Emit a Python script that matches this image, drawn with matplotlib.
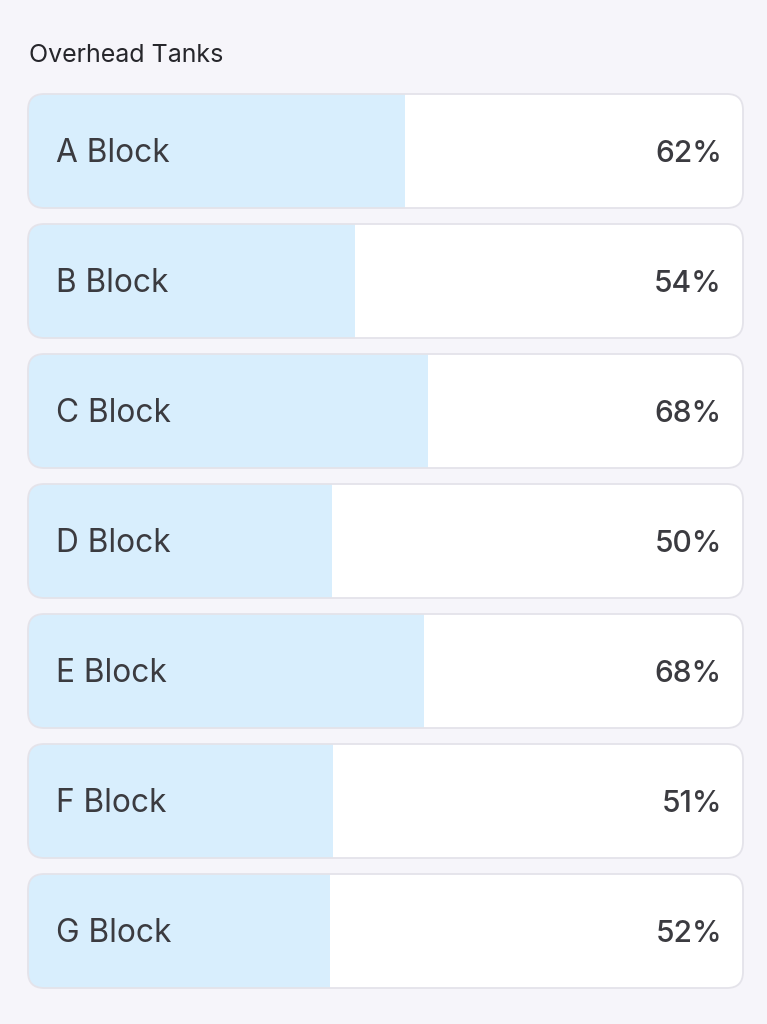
import matplotlib.pyplot as plt
from matplotlib.patches import FancyBboxPatch, Rectangle

# data
blocks = ['A Block', 'B Block', 'C Block', 'D Block', 'E Block', 'F Block', 'G Block']
levels = [62, 54, 68, 50, 68, 51, 52]                    # shown percentages
fill_width = [52.7, 45.7, 56.0, 42.5, 55.4, 42.7, 42.2]  # bar fill, % of card width
title = 'Overhead Tanks'

bg = '#f6f5fa'
fill_col = '#d8eefd'
edge_col = '#e4e3ea'
text_col = '#3b3b40'

plt.rcParams['font.family'] = ['Inter', 'DejaVu Sans']

W, H = 767, 1024
fig = plt.figure(figsize=(W / 100, H / 100), dpi=100, facecolor=bg)

# axes covering the card stack (pixel box 28..743 x 94..988)
left, right, top, bottom = 28, 743, 94, 988
ax = fig.add_axes([left / W, 1 - bottom / H, (right - left) / W, (bottom - top) / H])
ax.set_facecolor('none')
ax.axis('off')

step_px = 130
card_h = 114 / step_px
n = len(blocks)
ax.set_xlim(0, 100)
ax.set_ylim(n - 1 + card_h / 2, -card_h / 2)

px_x = (right - left) / 100.0   # px per x unit
px_y = step_px                  # px per y unit
radius = 16 / px_x
aspect = (px_x / px_y)
dy = 3 / px_y                   # small downward nudge for the labels

for i, (name, lvl, fw) in enumerate(zip(blocks, levels, fill_width)):
    y0 = i - card_h / 2
    card = FancyBboxPatch((0, y0), 100, card_h,
                          boxstyle=f'round,pad=0,rounding_size={radius}',
                          mutation_aspect=aspect,
                          facecolor='white', edgecolor='none', zorder=1)
    ax.add_patch(card)
    bar = Rectangle((0, y0), fw, card_h, facecolor=fill_col, edgecolor='none', zorder=2)
    ax.add_patch(bar)
    bar.set_clip_path(card)
    border = FancyBboxPatch((0, y0), 100, card_h,
                            boxstyle=f'round,pad=0,rounding_size={radius}',
                            mutation_aspect=aspect,
                            facecolor='none', edgecolor=edge_col, linewidth=1.3,
                            zorder=3, clip_on=False)
    ax.add_patch(border)
    ax.text(28 / px_x, i + dy, name, ha='left', va='center', fontsize=22.8,
            color=text_col, zorder=4)
    ax.text(694 / px_x, i + dy, f'{lvl}%', ha='right', va='center', fontsize=21.5,
            color=text_col, fontweight='medium', zorder=4)

fig.text(29 / W, 1 - 55 / H, title, ha='left', va='center', fontsize=18, color='#26262b')

fig.savefig('out.png', dpi=100, facecolor=bg)
